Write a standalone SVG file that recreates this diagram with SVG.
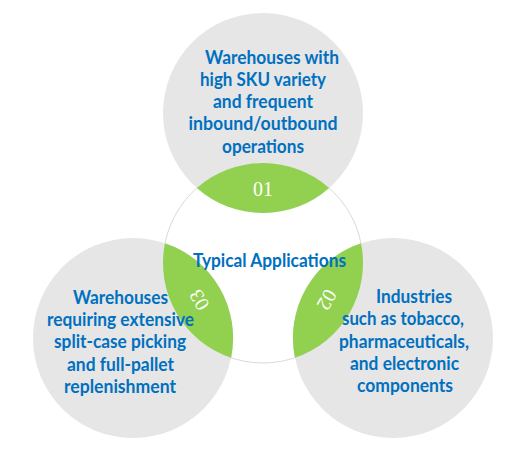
<svg xmlns="http://www.w3.org/2000/svg" xmlns:xlink="http://www.w3.org/1999/xlink" width="512" height="469" viewBox="0 0 512 469">
<style>
.outer{fill:#e6e6e6;}
.core{fill:#ffffff;stroke:#d9d9d9;stroke-width:1;}
.lens{fill:#92d050;}
.lbl{font-family:Lato,"Liberation Sans",sans-serif;font-weight:bold;font-size:18px;fill:#0070c0;text-anchor:middle;}
.num{font-family:"Liberation Serif",serif;font-size:20px;fill:#ffffff;text-anchor:middle;}
</style>
<defs>
<path id="lensShape" d="M196.86 188 A100 100 0 0 1 329.14 188 A100 100 0 0 1 196.86 188 Z"/>
</defs>
<rect width="512" height="469" fill="#ffffff"/>
<g id="center">
<circle class="core" cx="263" cy="263" r="100"/>
</g>
<g id="node-top">
<circle class="outer" cx="263" cy="113" r="100"/>
<use xlink:href="#lensShape" class="lens"/>
<text class="num" x="263" y="196">01</text>
<text class="lbl" x="272" y="64" textLength="134" lengthAdjust="spacingAndGlyphs">Warehouses with</text>
<text class="lbl" x="263" y="86" textLength="126" lengthAdjust="spacingAndGlyphs">high SKU variety</text>
<text class="lbl" x="263" y="108" textLength="100" lengthAdjust="spacingAndGlyphs">and frequent</text>
<text class="lbl" x="263" y="130" textLength="149" lengthAdjust="spacingAndGlyphs">inbound/outbound</text>
<text class="lbl" x="263" y="153" textLength="82" lengthAdjust="spacingAndGlyphs">operations</text>
</g>
<g id="node-right">
<circle class="outer" cx="393" cy="338" r="100"/>
<g transform="rotate(120 263 263)">
<use xlink:href="#lensShape" class="lens"/>
<text class="num" x="263" y="196">02</text>
</g>
<text class="lbl" x="414" y="303" textLength="76" lengthAdjust="spacingAndGlyphs">Industries</text>
<text class="lbl" x="403" y="325" textLength="122" lengthAdjust="spacingAndGlyphs">such as tobacco,</text>
<text class="lbl" x="404" y="348" textLength="130" lengthAdjust="spacingAndGlyphs">pharmaceuticals,</text>
<text class="lbl" x="404.5" y="370" textLength="109" lengthAdjust="spacingAndGlyphs">and electronic</text>
<text class="lbl" x="405" y="392" textLength="96" lengthAdjust="spacingAndGlyphs">components</text>
</g>
<g id="node-left">
<circle class="outer" cx="133" cy="338" r="100"/>
<g transform="rotate(240 263 263)">
<use xlink:href="#lensShape" class="lens"/>
<text class="num" x="263" y="196">03</text>
</g>
<text class="lbl" x="120.5" y="304" textLength="95" lengthAdjust="spacingAndGlyphs">Warehouses</text>
<text class="lbl" x="120.5" y="326" textLength="147" lengthAdjust="spacingAndGlyphs">requiring extensive</text>
<text class="lbl" x="120" y="348" textLength="132" lengthAdjust="spacingAndGlyphs">split-case picking</text>
<text class="lbl" x="120.5" y="371" textLength="107" lengthAdjust="spacingAndGlyphs">and full-pallet</text>
<text class="lbl" x="120" y="393" textLength="112" lengthAdjust="spacingAndGlyphs">replenishment</text>
</g>
<g id="title">
<text class="lbl" x="269.5" y="267" textLength="153" lengthAdjust="spacingAndGlyphs">Typical Applications</text>
</g>
<g id="connectors"></g>
</svg>
